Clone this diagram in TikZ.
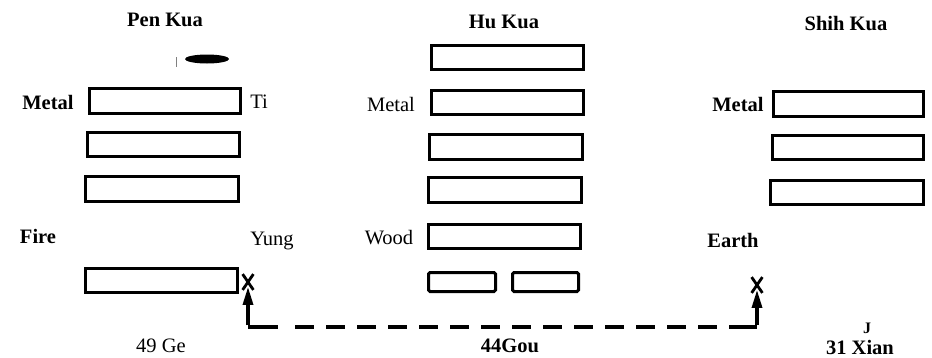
\documentclass[tikz,border=0pt]{standalone}
\usepackage{fontspec}
\setmainfont{Liberation Serif}
\usetikzlibrary{arrows.meta,shapes.misc}
\begin{document}
\begin{tikzpicture}[x=1pt,y=-1pt,
  yao/.style={draw,line width=3.2pt,rectangle,inner sep=0pt,minimum height=24.5pt},
  brk/.style={draw,line width=3pt,rectangle,rounded corners=1.5pt,inner sep=0pt,minimum height=19pt},
  lbl/.style={inner sep=0pt,font=\fontsize{20.5}{24}\selectfont},
  blbl/.style={inner sep=0pt,font=\fontsize{20.5}{24}\selectfont\bfseries},
  xmark/.style={draw,cross out,line width=2.8pt,inner sep=0pt,minimum width=8pt,minimum height=13pt},
  conn/.style={line width=3.2pt},
  upar/.style={line width=3.2pt,-{Triangle[length=18pt,width=10pt]}}
]
\useasboundingbox (0,0) rectangle (932,357);
% Pen Kua
\node[blbl] (tpen) at (165,20) {Pen Kua};
\fill (207,59) ellipse [x radius=22,y radius=4.5];
\draw[line width=0.8pt,gray] (176,57) -- (176,67);
\node[yao,minimum width=150.5pt] (p1) at (165,101) {};
\node[yao,minimum width=151.5pt] (p2) at (163.5,144.5) {};
\node[yao,minimum width=152.5pt] (p3) at (162,189) {};
\node[yao,minimum width=151.5pt] (p5) at (161.5,280.5) {};
\node[blbl] (pmetal) at (48,102) {Metal};
\node[lbl] (pti) at (259,102) {Ti};
\node[blbl] (pfire) at (38,236) {Fire};
\node[lbl] (pyung) at (272,241) {Yung};
\node[lbl] (pge) at (161,346) {49 Ge};
% Hu Kua
\node[blbl] (thu) at (504,22) {Hu Kua};
\node[yao,minimum width=151.5pt] (h1) at (507.5,57.5) {};
\node[yao,minimum width=151.5pt] (h2) at (507.5,102.5) {};
\node[yao,minimum width=152.5pt] (h3) at (506,147) {};
\node[yao,minimum width=152.5pt] (h4) at (505,190) {};
\node[yao,minimum width=151.5pt] (h5) at (504.5,236.5) {};
\node[brk,minimum width=67pt] (h6a) at (462,282) {};
\node[brk,minimum width=66pt] (h6b) at (545.5,282) {};
\node[lbl] (hmetal) at (391,104) {Metal};
\node[lbl] (hwood) at (389,238) {Wood};
\node[blbl] (hgou) at (510,346) {44Gou};
% Shih Kua
\node[blbl] (tshih) at (846,24) {Shih Kua};
\node[yao,minimum width=149.5pt] (s1) at (848.5,104) {};
\node[yao,minimum width=150.5pt] (s2) at (848,147.5) {};
\node[yao,minimum width=152.5pt] (s3) at (847,192.5) {};
\node[blbl] (smetal) at (738,104) {Metal};
\node[blbl] (searth) at (733,240) {Earth};
\node[inner sep=0pt,font=\fontsize{16}{18}\selectfont\bfseries] (sj) at (867,328) {J};
\node[blbl] (sxian) at (860,347) {31 Xian};
% connector
\node[xmark] (xl) at (248,282) {};
\node[xmark] (xr) at (757,285) {};
\coordinate (cl) at (248,327);
\coordinate (cr) at (757,327);
\draw[conn] (cl) -- ++(30,0);
\draw[conn,dash pattern=on 19pt off 12pt] ([xshift=47pt]cl) -- ([xshift=-15pt]cr);
\draw[conn] ([xshift=-15pt]cr) -- (cr);
\draw[upar] ([yshift=1.6pt]cl) -- ([yshift=3pt]xl.south);
\draw[upar] ([yshift=1.6pt]cr) -- ([yshift=3pt]xr.south);
\end{tikzpicture}
\end{document}
